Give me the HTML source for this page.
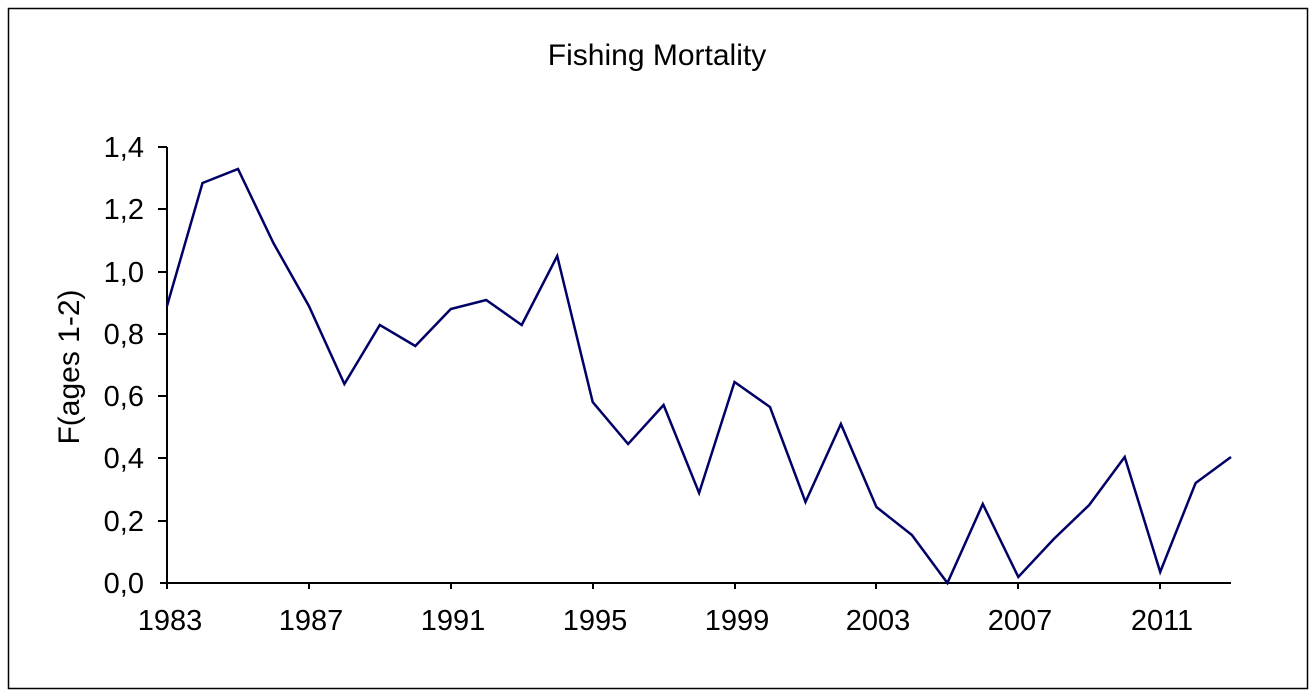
<!DOCTYPE html>
<html><head><meta charset="utf-8"><style>
html,body{margin:0;padding:0;background:#fff;}
svg{display:block;font-family:"Liberation Sans",Arial,sans-serif;}
</style></head><body>
<svg width="1316" height="694" viewBox="0 0 1316 694" xmlns="http://www.w3.org/2000/svg">
<rect x="8.5" y="8.5" width="1299" height="680" fill="#fff" stroke="#000" stroke-width="1.5"/>
<text x="657" y="65" font-size="30" text-anchor="middle">Fishing Mortality</text>
<g stroke="#000" stroke-width="2">
<line x1="167" y1="147" x2="167" y2="589"/>
<line x1="160" y1="583" x2="1231" y2="583"/>
<line x1="158" y1="521" x2="167" y2="521"/>
<line x1="158" y1="458" x2="167" y2="458"/>
<line x1="158" y1="396" x2="167" y2="396"/>
<line x1="158" y1="334" x2="167" y2="334"/>
<line x1="158" y1="272" x2="167" y2="272"/>
<line x1="158" y1="209" x2="167" y2="209"/>
<line x1="158" y1="147" x2="167" y2="147"/>
<line x1="309" y1="583" x2="309" y2="589"/>
<line x1="451" y1="583" x2="451" y2="589"/>
<line x1="593" y1="583" x2="593" y2="589"/>
<line x1="735" y1="583" x2="735" y2="589"/>
<line x1="876" y1="583" x2="876" y2="589"/>
<line x1="1018" y1="583" x2="1018" y2="589"/>
<line x1="1160" y1="583" x2="1160" y2="589"/>
</g>
<g font-size="29" text-anchor="end">
<text x="144" y="593">0,0</text>
<text x="144" y="531">0,2</text>
<text x="144" y="468">0,4</text>
<text x="144" y="406">0,6</text>
<text x="144" y="344">0,8</text>
<text x="144" y="282">1,0</text>
<text x="144" y="219">1,2</text>
<text x="144" y="157">1,4</text>
</g>
<g font-size="29" text-anchor="middle">
<text x="170" y="630">1983</text>
<text x="311" y="630">1987</text>
<text x="453" y="630">1991</text>
<text x="595" y="630">1995</text>
<text x="737" y="630">1999</text>
<text x="878" y="630">2003</text>
<text x="1020" y="630">2007</text>
<text x="1162" y="630">2011</text>
</g>
<text transform="translate(79,367) rotate(-90)" font-size="30" text-anchor="middle">F(ages 1-2)</text>
<polyline fill="none" stroke="#000066" stroke-width="2.5" stroke-linejoin="miter" points="
167,306 202.5,183 238,169 273.4,243 308.9,306 344.4,384 379.8,325 415.3,346 450.8,309 486.2,300 521.7,325 557.2,256 592.7,402 628.1,444 663.6,405 699.1,493 734.5,382 770,407 805.5,502 840.9,424 876.4,507 911.9,535 947.4,583 982.8,504 1018.3,577 1053.8,539 1089.2,505 1124.7,457 1160.2,572 1195.6,483 1231,457"/>
</svg>
</body></html>
